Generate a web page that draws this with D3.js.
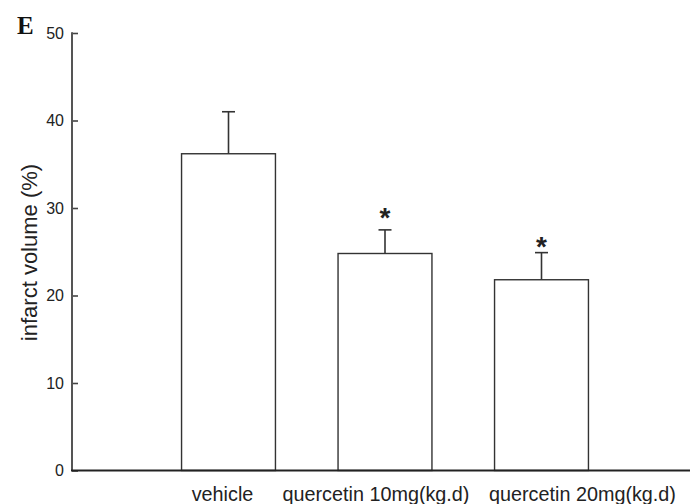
<!DOCTYPE html>
<html>
<head>
<meta charset="utf-8">
<script src="https://cdn.jsdelivr.net/npm/d3@7"></script>
<style>
  html, body { margin: 0; padding: 0; background: #fff; }
  svg { display: block; }
</style>
</head>
<body>
<svg id="chart" width="690" height="504"></svg>
<script>
// ---- data ----
const categories = ["vehicle", "quercetin 10mg(kg.d)", "quercetin 20mg(kg.d)"];
const means = [36.2, 24.8, 21.8];
const errors = [4.8, 2.7, 3.1];
const significant = [false, true, true];
const yTicks = [0, 10, 20, 30, 40, 50];
const yLabel = "infarct volume (%)";
const panelLetter = "E";

// ---- layout / style ----
const labelDx = [-6, -9, 41];   // label offsets relative to bar centres (layout)
const starGap = [0, 19, 13];    // gap from cap to asterisk centre (layout)
const ink = "#333";

const svg = d3.select("#chart");
const x = d3.scaleLinear().domain([0, 4]).range([72, 698]);
const y = d3.scaleLinear().domain([0, 50]).range([470.5, 33]);
const barW = x(0.6) - x(0);
const capW = 13;

// bars
const g = svg.append("g");
categories.forEach((c, i) => {
  const cx = x(i + 1);
  g.append("rect")
    .attr("x", cx - barW / 2)
    .attr("y", y(means[i]))
    .attr("width", barW)
    .attr("height", y(0) - y(means[i]))
    .attr("fill", "#fff")
    .attr("stroke", ink)
    .attr("stroke-width", 1.4);
  const top = y(means[i] + errors[i]);
  g.append("line")
    .attr("x1", cx).attr("x2", cx)
    .attr("y1", y(means[i])).attr("y2", top)
    .attr("stroke", ink).attr("stroke-width", 1.6);
  g.append("line")
    .attr("x1", cx - capW / 2).attr("x2", cx + capW / 2)
    .attr("y1", top).attr("y2", top)
    .attr("stroke", ink).attr("stroke-width", 1.6);
  if (significant[i]) {
    g.append("text")
      .attr("x", cx)
      .attr("y", top - starGap[i] + 16)
      .attr("text-anchor", "middle")
      .attr("font-family", "Liberation Sans, Arial, sans-serif")
      .attr("font-size", 28)
      .attr("font-weight", "bold")
      .attr("fill", "#222")
      .text("*");
  }
  g.append("text")
    .attr("x", cx + labelDx[i])
    .attr("y", 501)
    .attr("text-anchor", "middle")
    .attr("font-family", "Liberation Sans, Arial, sans-serif")
    .attr("font-size", 19.8)
    .attr("fill", "#222")
    .text(c);
});

// y axis
const yAxis = d3.axisLeft(y)
  .tickValues(yTicks)
  .tickSizeInner(-6)
  .tickSizeOuter(0)
  .tickPadding(8)
  .tickFormat(d3.format("d"));
const ya = svg.append("g").attr("transform", "translate(72,0)").call(yAxis);
ya.select(".domain").remove();
ya.selectAll(".tick line").attr("stroke", "#444").attr("stroke-width", 1.6);
ya.selectAll(".tick text")
  .attr("font-family", "Liberation Sans, Arial, sans-serif")
  .attr("font-size", 16)
  .attr("fill", "#222");
svg.append("line")
  .attr("x1", 72).attr("x2", 72)
  .attr("y1", y(50) - 0.8).attr("y2", y(0))
  .attr("stroke", "#555").attr("stroke-width", 2);

// x axis baseline
svg.append("line")
  .attr("x1", 71).attr("x2", 690)
  .attr("y1", y(0)).attr("y2", y(0))
  .attr("stroke", "#222").attr("stroke-width", 2);

// y label
svg.append("text")
  .attr("transform", "translate(37,252.5) rotate(-90)")
  .attr("text-anchor", "middle")
  .attr("font-family", "Liberation Sans, Arial, sans-serif")
  .attr("font-size", 22)
  .attr("fill", "#222")
  .text(yLabel);

// panel letter
svg.append("text")
  .attr("x", 17).attr("y", 34)
  .attr("font-family", "Liberation Serif, Times New Roman, serif")
  .attr("font-weight", "bold")
  .attr("font-size", 25)
  .attr("fill", "#111")
  .text(panelLetter);
</script>
</body>
</html>
